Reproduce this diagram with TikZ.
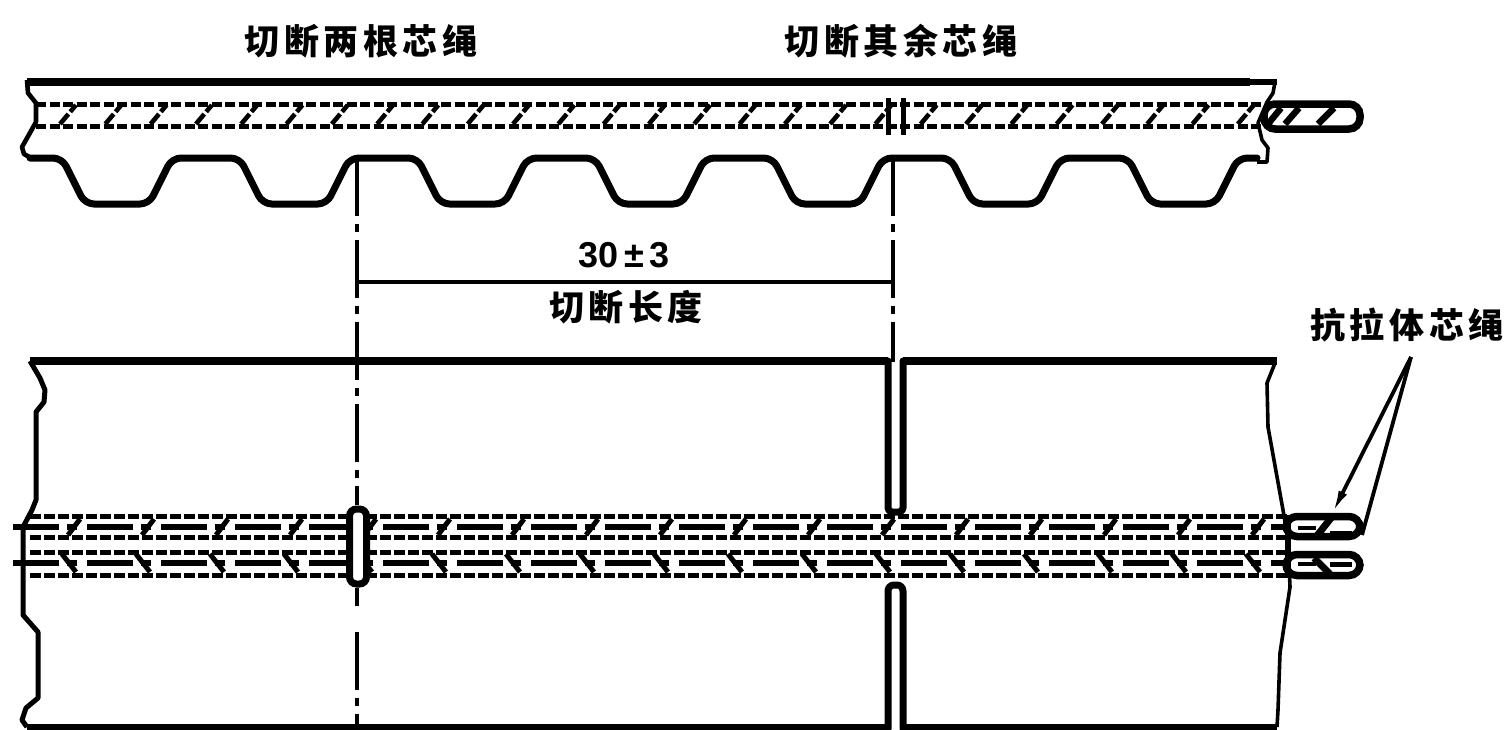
\documentclass[tikz,border=0pt]{standalone}
\usepackage{fontspec}
\usetikzlibrary{arrows.meta}
\newfontfamily\cjk[LetterSpace=13]{Noto Sans CJK SC}
\setmainfont{Liberation Sans}
\tikzset{
  outline/.style={line width=7pt,line join=round,line cap=round},
  thinedge/.style={line width=3.6pt,line join=round},
  edgeheavy/.style={line width=8pt},
  center line/.style={line width=3.2pt,dash pattern=on 58pt off 8pt on 8pt off 8pt},
  dimline/.style={line width=4.6pt},
  band/.style={line width=5pt,dash pattern=on 10pt off 3.5pt},
  cordlong/.style={line width=5.6pt,dash pattern=on 46pt off 8pt on 10pt off 10pt},
  cordshort/.style={line width=5pt,dash pattern=on 11pt off 3pt},
  hatch/.style={line width=4.6pt,dash pattern=on 13pt off 3pt},
  leader/.style={line width=3.8pt},
  lab/.style={font=\cjk\bfseries\fontsize{35}{35}\selectfont,inner sep=0pt},
  numlab/.style={font=\bfseries\fontsize{36}{36}\selectfont,inner sep=0pt},
  cutbox/.style={draw,fill=white,line width=7pt,rounded corners=7pt,minimum width=17pt,minimum height=75pt,inner sep=0pt},
  stub/.style={draw,fill=white,line width=7.5pt,rounded corners=11pt,inner sep=0pt}
}
\begin{document}
\begin{tikzpicture}[x=1pt,y=-1pt]
\useasboundingbox (0,0) rectangle (1508,729);
\fill[white] (0,0) rectangle (1508,729);

% ---------- top belt: cross-section ----------
\node[stub,minimum width=96pt,minimum height=25pt] (topstub) at (1312,116.5) {};
\foreach \a/\b in {1268/1281,1285/1299,1318/1334}
  \draw[line width=6.5pt] (\a,124) -- (\b,108);

\fill[white] (27,84) -- (1274,84) -- (1258,123) -- (1268,148) -- (1266,160) -- (28,157) -- cycle;
\draw[edgeheavy] (27,82) -- (1250,82);
\draw[line width=6pt] (1250,82) -- (1277,82);
\draw[thinedge,line width=4.6pt] (27,80) -- (28,93) -- (36,103) -- (36,122) -- (31,131) -- (22,147) -- (24,154) -- (31,158);
\draw[thinedge] (1275,82) -- (1273,93) -- (1267,102) -- (1258,123) -- (1262,140) -- (1268,148) -- (1267,162) -- (1257,162);

% tooth profile
\draw[outline,rounded corners=9pt] (30,158)
  \foreach \i in {0,...,6} {
    -- ({62+177.7*\i},158) -- ({85+177.7*\i},204) -- ({149+177.7*\i},204) -- ({172+177.7*\i},158)
  } -- (1257,158);

% cord layer
\draw[band] (36,104) -- (1262,104);
\draw[band] (36,126) -- (1262,126);
\foreach \i in {0,...,26}
  \draw[hatch] ({60+45.3*\i},124) -- ({76+45.3*\i},105);
\draw[line width=5pt] (888,98) -- (888,135);
\draw[line width=5pt] (903,98) -- (903,135);

% ---------- bottom belt: plan view ----------
\draw[edgeheavy] (30,361) -- (888,361);
\draw[edgeheavy] (903,361) -- (1277,361);
\draw[line width=5pt,line join=round] (30,361) -- (40,378) -- (45,390) -- (44,402) -- (36,412) -- (36,500) -- (32,510) -- (23,527) -- (23,615) -- (38,632) -- (38,698) -- (26,708) -- (22,720) -- (27,727);
\draw[thinedge] (1275,363) -- (1267,383) -- (1268,427) -- (1283,510) -- (1288,540) -- (1290,587) -- (1280,653) -- (1278,710) -- (1277,727);
\draw[edgeheavy,line width=5.5pt] (27,727) -- (888,727);
\draw[edgeheavy,line width=5.5pt] (903,727) -- (1277,727);

% middle cut
\draw[outline,rounded corners=4pt] (888,361) -- (888,512) -- (903,512) -- (903,361);
\draw[outline,rounded corners=6pt] (888,729) -- (888,585) -- (903,585) -- (903,729);

% stubs on the right
\node[stub,minimum width=74pt,minimum height=20pt] (stubA) at (1323,526.5) {};
\node[stub,minimum width=74pt,minimum height=21pt] (stubB) at (1323,565) {};
\draw[line width=7pt] (1316,537) -- (1331,518);
\draw[line width=7pt] (1314,558) -- (1330,574);
\draw[line width=4pt] (1298,528) -- (1316,528);
\draw[line width=4pt] (1298,564) -- (1316,564);
\draw[line width=5pt] (1330,533) -- (1352,533);
\draw[line width=5pt] (1330,564) -- (1352,564);

% cords
\foreach \y in {516,537,552,575}
  \draw[cordshort] (30,\y) -- (1288,\y);
\draw[cordlong] (13,527) -- (1288,527);
\draw[cordlong] (13,563) -- (1288,563);
\foreach \i in {0,...,16} {
  \draw[line width=5pt] ({68+74*\i},535) -- ({80+74*\i},519);
  \draw[line width=5pt] ({62+74*\i},554) -- ({76+74*\i},572);
}
\draw[line width=6pt] (1288,515) -- (1288,578);

% left cut
\node[cutbox] (leftcut) at (358,546.5) {};

% ---------- centre lines and dimension ----------
\coordinate (clA) at (357,158);
\coordinate (clB) at (893,158);
\draw[center line] (clA) -- (357,505);
\draw[center line] (clB) -- (893,362);
\draw[line width=3.2pt] (357,588) -- (357,606);
\draw[center line] (357,632) -- (357,729);

\coordinate (dimL) at (357,282);
\coordinate (dimR) at (893,282);
\draw[dimline] (dimL) -- (dimR);
\draw[line width=3.6pt] (dimL) -- ++(0,-12);
\draw[line width=3.6pt] (dimR) -- ++(0,-12);

\node[numlab] (dimtext) at (624,255) {30\kern6pt±\kern6pt3};
\node[lab] (lenlab) at (626,307) {切断长度};

% ---------- labels and leaders ----------
\node[lab] (labA) at (361,41) {切断两根芯绳};
\node[lab] (labB) at (901,41) {切断其余芯绳};
\node[lab] (labC) at (1407,325) {抗拉体芯绳};
\coordinate (apex) at (1411,357);
\coordinate (tipA) at (1332,514);
\coordinate (tipB) at (1362,535);
\draw[leader,-{Latex[length=24pt,width=9pt]}] (apex) -- (tipA);
\draw[leader] (apex) -- (tipB);
\end{tikzpicture}
\end{document}
